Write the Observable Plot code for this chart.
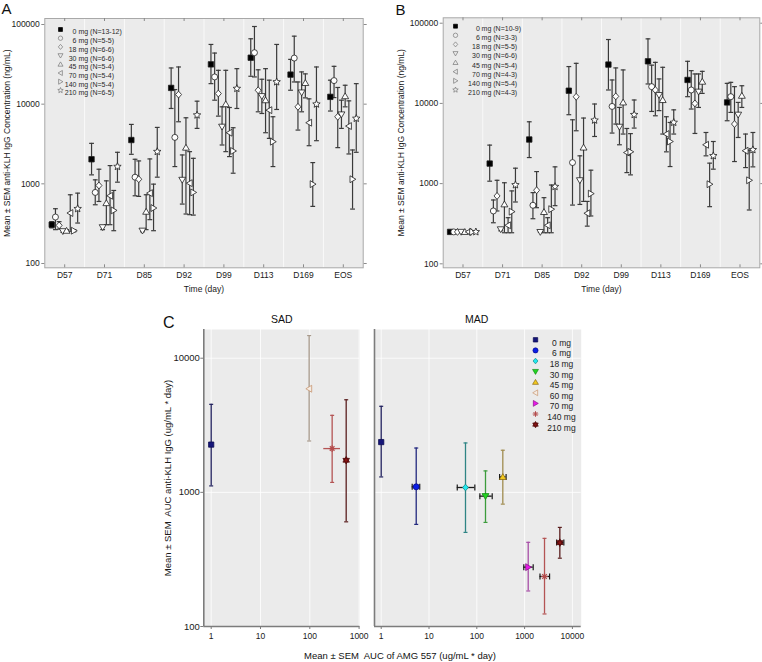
<!DOCTYPE html>
<html><head><meta charset="utf-8">
<script src="https://cdn.jsdelivr.net/npm/d3@7"></script>
<script src="https://cdn.jsdelivr.net/npm/@observablehq/plot@0.6"></script>
<style>
body{margin:0;background:#fff;}
#root{position:relative;width:762px;height:662px;overflow:hidden;background:#fff;font-family:"Liberation Sans",Arial,Helvetica,sans-serif;}
.pane{position:absolute;}
#overlay{position:absolute;left:0;top:0;pointer-events:none;}
</style></head><body><div id="root"></div>
<script>
// ---------- DATA ----------
const timepoints = ["D57","D71","D85","D92","D99","D113","D169","EOS"];
const doseNums = ["0","6","18","30","45","70","140","210"];
const nLabelsA = ["mg (N=13-12)","mg (N=5-5)","mg (N=6-6)","mg (N=6-6)","mg (N=5-4)","mg (N=5-4)","mg (N=5-4)","mg (N=6-5)"];
const nLabelsB = ["mg (N=10-9)","mg (N=3-3)","mg (N=5-5)","mg (N=6-6)","mg (N=5-4)","mg (N=4-3)","mg (N=5-4)","mg (N=4-3)"];

// Panel A: rows = dose series, columns = timepoints
const meanA = [
  [307, 2034, 3548, 16000, 31600, 38300, 23500, 12350],
  [383, 780, 1212, 3831, 21970, 44300, 37900, 19770],
  [301, 953, 1142, 13200, 13600, 14960, 9260, 6950],
  [254, 285, 258, 1122, 5210, 12600, 14000, 7430],
  [258, 573, 447, 2847, 10000, 11220, 18480, 12600],
  [430, 708, 764, 1019, 4380, 8410, 5850, 5310],
  [258, 464, 497, 780, 2585, 3380, 991, 1142],
  [487, 1647, 2535, 7290, 15700, 19000, 10000, 6620]
];
const lowA = [
  [280, 1296, 2348, 8830, 18100, 22400, 14960, 8200],
  [266, 546, 708, 1647, 11220, 21970, 19000, 12100],
  [270, 601, 695, 6013, 7080, 8020, 4730, 2847],
  [246, 266, 250, 557, 3073, 7640, 8020, 4966],
  [250, 307, 266, 418, 2535, 4380, 12000, 9260],
  [254, 307, 355, 410, 2197, 3720, 3010, 2371],
  [250, 258, 258, 405, 1359, 1647, 521, 482],
  [322, 1049, 1212, 4966, 8830, 8580, 3480, 2488]
];
const highA = [
  [335, 3222, 5570, 28470, 56200, 66200, 36500, 20000],
  [487, 1122, 2034, 15250, 43800, 94400, 71400, 29850],
  [335, 1525, 1939, 29300, 26600, 27000, 19000, 16200],
  [262, 300, 268, 2304, 9260, 20540, 25400, 11220],
  [266, 1090, 729, 6745, 26600, 27900, 24000, 17280],
  [729, 1694, 2054, 2535, 9080, 20000, 11660, 11000],
  [266, 826, 991, 2090, 5060, 6950, 1848, 2660],
  [764, 2488, 5109, 10900, 27900, 56200, 29300, 18100]
];

// Panel B
const meanB = [
  [250, 1778, 3548, 14400, 30500, 33500, 19610, 10290],
  [250, 456, 537, 1830, 9170, 16180, 14700, 12130],
  [250, 702, 827, 12100, 12240, 14700, 10000, 5530],
  [250, 269, 249, 1100, 5110, 12700, 14000, 7230],
  [250, 552, 443, 2820, 10290, 11030, 18670, 12470],
  [250, 302, 302, 427, 2440, 4150, 3050, 2570],
  [250, 447, 480, 750, 2490, 3350, 983, 1100],
  [250, 964, 917, 6170, 7230, 5785, 2220, 2640]
];
const lowB = [
  [250, 1072, 2113, 7230, 14700, 17480, 12130, 6080],
  [250, 325, 365, 540, 4270, 7940, 8510, 7720],
  [250, 456, 501, 4560, 5530, 7010, 4220, 1884],
  [250, 258, 249, 550, 3050, 8130, 8910, 3760],
  [250, 244, 244, 600, 4150, 4150, 13340, 8910],
  [250, 244, 244, 295, 1372, 2490, 2220, 1585],
  [250, 244, 244, 395, 1285, 1632, 516, 469],
  [250, 590, 531, 3870, 4925, 4150, 1514, 1618]
];
const highB = [
  [250, 3020, 5900, 28800, 62600, 63800, 33500, 17780],
  [250, 625, 772, 6250, 19600, 30000, 25600, 18300],
  [250, 1100, 1413, 31600, 27700, 32500, 23300, 16180],
  [250, 282, 249, 2220, 8910, 20200, 23300, 10290],
  [250, 1025, 668, 6570, 26150, 28200, 25100, 16600],
  [250, 376, 376, 600, 4870, 6820, 4340, 4150],
  [250, 811, 960, 1470, 4200, 5785, 1800, 2610],
  [250, 1557, 1618, 9830, 11030, 8310, 3350, 4340]
];

// Panel C
const cDoses = ["0 mg","6 mg","18 mg","30 mg","45 mg","60 mg","70 mg","140 mg","210 mg"];
const sadDose = ["0 mg","60 mg","140 mg","210 mg"];
const sadX   = [1, 97, 284, 547];
const sadXLo = [1, 97, 192, 505];
const sadXHi = [1, 97, 420, 595];
const sadY   = [2270, 5920, 2120, 1735];
const sadYLo = [1117, 2415, 1186, 603];
const sadYHi = [4530, 14750, 3750, 4900];

const madDose = ["0 mg","6 mg","18 mg","30 mg","45 mg","70 mg","140 mg","210 mg"];
const madX   = [1, 5.4, 58, 152, 350, 1190, 2610, 5460];
const madXLo = [1, 4.45, 39, 116, 300, 962, 2100, 4680];
const madXHi = [1, 6.4, 91, 210, 410, 1513, 3330, 6620];
const madY   = [2370, 1100, 1087, 937, 1303, 277, 236, 422];
const madYLo = [1303, 577, 503, 597, 817, 184, 124, 323];
const madYHi = [4380, 2140, 2335, 1445, 2060, 424, 454, 548];

// ---------- SYMBOLS / STYLES ----------
const FONT = '"Liberation Sans", Arial, Helvetica, sans-serif';
const S = (f) => ({draw(c, size) { const r = Math.sqrt(size / Math.PI); f(c, r); }});
const SYM = {
  square: S((c,r)=>{c.moveTo(-r*.9,-r*.9);c.lineTo(r*.9,-r*.9);c.lineTo(r*.9,r*.9);c.lineTo(-r*.9,r*.9);c.closePath();}),
  circle: S((c,r)=>{c.moveTo(r,0);c.arc(0,0,r,0,2*Math.PI);c.closePath();}),
  diamond: S((c,r)=>{c.moveTo(0,-r*1.15);c.lineTo(r,0);c.lineTo(0,r*1.15);c.lineTo(-r,0);c.closePath();}),
  triDown: S((c,r)=>{c.moveTo(0,r*1.1);c.lineTo(-r*1.15,-r*.85);c.lineTo(r*1.15,-r*.85);c.closePath();}),
  triUp: S((c,r)=>{c.moveTo(0,-r*1.1);c.lineTo(r*1.15,r*.85);c.lineTo(-r*1.15,r*.85);c.closePath();}),
  triLeft: S((c,r)=>{c.moveTo(-r*1.1,0);c.lineTo(r*.85,-r*1.15);c.lineTo(r*.85,r*1.15);c.closePath();}),
  triRight: S((c,r)=>{c.moveTo(r*1.1,0);c.lineTo(-r*.85,r*1.15);c.lineTo(-r*.85,-r*1.15);c.closePath();}),
  star: S((c,r)=>{const R=r*1.3,ri=R*0.45;for(let i=0;i<10;i++){const a=-Math.PI/2+i*Math.PI/5,rr=i%2?ri:R;const x=rr*Math.cos(a),y=rr*Math.sin(a);i?c.lineTo(x,y):c.moveTo(x,y);}c.closePath();}),
  hexagram: S((c,r)=>{const R=r*1.3,k=0.866;c.moveTo(0,-R);c.lineTo(R*k,R/2);c.lineTo(-R*k,R/2);c.closePath();c.moveTo(0,R);c.lineTo(-R*k,-R/2);c.lineTo(R*k,-R/2);c.closePath();}),
  asterisk: S((c,r)=>{for(let i=0;i<4;i++){const a=i*Math.PI/4;c.moveTo(-r*Math.cos(a),-r*Math.sin(a));c.lineTo(r*Math.cos(a),r*Math.sin(a));}}),
  capH: S((c,r)=>{c.moveTo(-r,0);c.lineTo(r,0);}),
  capV: S((c,r)=>{c.moveTo(0,-r);c.lineTo(0,r);})
};
const seriesSym = [SYM.square, SYM.circle, SYM.diamond, SYM.triDown, SYM.triUp, SYM.triLeft, SYM.triRight, SYM.star];
const OFFSET = 0.093;

const root = document.getElementById("root");
function place(node, left, top) {
  const d = document.createElement("div");
  d.className = "pane"; d.style.left = left + "px"; d.style.top = top + "px";
  d.appendChild(node); root.appendChild(d);
}

// ---------- PANELS A / B ----------
function timePanel(o) {
  const H = 300, innerH = H - o.mT - o.mB;
  const rows = (s) => timepoints.map((t, c) => ({x: c + (s - 3.5) * OFFSET, y: o.means[s][c], lo: o.lows[s][c], hi: o.highs[s][c]}));
  const series = d3.range(8);
  const barC = "#3a3a3a";
  return Plot.plot({
    width: o.width, height: H,
    marginLeft: o.mL, marginRight: o.mR, marginTop: o.mT, marginBottom: o.mB,
    style: {fontFamily: FONT, fontSize: "8.5px", color: "#1a1a1a", background: "transparent", overflow: "visible"},
    x: {domain: [-0.5, 7.5]},
    y: {type: "log", domain: o.yDomain},
    marks: [
      Plot.frame({fill: "#ebebeb", stroke: null}),
      Plot.ruleX(d3.range(0.5, 7, 1), {stroke: "#fff", strokeOpacity: 0.7}),
      ...series.flatMap(s => [
        Plot.ruleX(rows(s), {x: "x", y1: "lo", y2: "hi", stroke: barC, strokeWidth: 1.2}),
        Plot.dot(rows(s), {x: "x", y: "lo", symbol: SYM.capH, r: 2.4, fill: "none", stroke: barC, strokeWidth: 1.2}),
        Plot.dot(rows(s), {x: "x", y: "hi", symbol: SYM.capH, r: 2.4, fill: "none", stroke: barC, strokeWidth: 1.2})
      ]),
      ...series.map(s => Plot.dot(rows(s), {x: "x", y: "y", symbol: seriesSym[s], r: 3, fill: s ? "#fff" : "#000", stroke: "#1e1e1e", strokeWidth: 0.8})),
      Plot.frame({stroke: "#a8a8a8"}),
      Plot.ruleX(d3.range(8), {insetTop: innerH - 3, stroke: "#8a8a8a"}),
      Plot.ruleX(d3.range(8), {insetBottom: innerH - 3, stroke: "#8a8a8a"}),
      Plot.axisX(d3.range(8), {tickSize: 0, tickPadding: 4, tickFormat: i => timepoints[i], fontSize: 8.5,
        label: "Time (day)", labelAnchor: "center", labelArrow: "none", labelOffset: 24}),
      Plot.axisY([100, 1000, 10000, 100000], {tickSize: 3, tickPadding: 2, tickFormat: d3.format("d"), stroke: "#8a8a8a", fontSize: 8.5,
        label: "Mean \u00b1 SEM anti-KLH IgG Concentration (ng/mL)", labelAnchor: "center", labelArrow: "none", labelOffset: o.yLabelOffset}),
      Plot.axisY([100, 1000, 10000, 100000], {anchor: "right", tickSize: 3, tickFormat: () => "", stroke: "#8a8a8a", label: null}),
      // legend
      ...series.flatMap(s => [
        Plot.dot([0], {frameAnchor: "top-left", dx: o.lg.sym, dy: o.lg.dy0 + s * o.lg.step, symbol: seriesSym[s], r: 2.2,
          fill: s ? "none" : "#000", stroke: s ? "#777" : "#000", strokeWidth: 0.7}),
        Plot.text([doseNums[s]], {frameAnchor: "top-left", dx: o.lg.num, dy: o.lg.dy0 + s * o.lg.step, textAnchor: "end", fontSize: 7, fill: "#2a2a2a"}),
        Plot.text([o.nLabels[s]], {frameAnchor: "top-left", dx: o.lg.txt, dy: o.lg.dy0 + s * o.lg.step, textAnchor: "start", fontSize: 7, fill: "#2a2a2a"})
      ])
    ]
  });
}

place(timePanel({means: meanA, lows: lowA, highs: highA, nLabels: nLabelsA, width: 380,
  mL: 44.3, mR: 17.3, mT: 18, mB: 32.7, yDomain: [88.3, 118950], yLabelOffset: 41,
  lg: {sym: 15.7, num: 31.7, txt: 33.6, dy0: 11, step: 8.7}}), 0, 0);
place(timePanel({means: meanB, lows: lowB, highs: highB, nLabels: nLabelsB, width: 382,
  mL: 62.7, mR: 2.7, mT: 17.3, mB: 32.7, yDomain: [89.2, 116800], yLabelOffset: 45,
  lg: {sym: 12.3, num: 36.6, txt: 38.4, dy0: 8.4, step: 9.1}}), 380, 0);

// ---------- PANEL C ----------
const cStyle = {
  "0 mg":   {sym: SYM.square,  fill: "#16167a", stroke: "#0c0c50", bar: "#22225e", r: 2.9},
  "6 mg":   {sym: SYM.circle,  fill: "#0a1ee6", stroke: "#0a0a8c", bar: "#22287e", r: 3},
  "18 mg":  {sym: SYM.diamond, fill: "#22e8ee", stroke: "#148c8c", bar: "#2e8484", r: 2.9},
  "30 mg":  {sym: SYM.triDown, fill: "#22d422", stroke: "#148c14", bar: "#3c9c3c", r: 3},
  "45 mg":  {sym: SYM.triUp,   fill: "#f2c81e", stroke: "#8c6c14", bar: "#a08c50", r: 3},
  "60 mg":  {sym: SYM.triLeft, fill: "#f4ece4", stroke: "#c89670", bar: "#a89a8c", r: 3},
  "70 mg":  {sym: SYM.triRight,fill: "#e818e8", stroke: "#8c148c", bar: "#a850a8", r: 3},
  "140 mg": {sym: SYM.asterisk,fill: "none",    stroke: "#b44c4c", bar: "#b45454", r: 3.3},
  "210 mg": {sym: SYM.hexagram,fill: "#8a1414", stroke: "#500a0a", bar: "#5a1e1e", r: 2.9}
};

function aucPanel(o) {
  const rows = o.dose.map((d, i) => ({d, x: o.x[i], xlo: o.xlo[i], xhi: o.xhi[i], y: o.y[i], ylo: o.ylo[i], yhi: o.yhi[i]}));
  const marks = [
    Plot.frame({fill: "#ebebeb", stroke: null}),
    Plot.gridX(o.xticks, {stroke: "#fff", strokeOpacity: 1, strokeWidth: 0.8}),
    Plot.gridY([1000, 10000], {stroke: "#fff", strokeOpacity: 1, strokeWidth: 0.8}),
    Plot.ruleX([o.xDomain[0]], {stroke: "#7c7c7c", strokeWidth: 1.6}),
    Plot.ruleY([o.yDomain[0]], {stroke: "#7c7c7c", strokeWidth: 1.6}),
    Plot.axisX(o.xticks, {tickSize: 3, tickPadding: 3, tickFormat: d3.format("d"), stroke: "#7c7c7c", fontSize: 8.5, label: null})
  ];
  if (o.yAxis) marks.push(Plot.axisY([100, 1000, 10000], {tickSize: 3, tickPadding: 1, tickFormat: d3.format("d"), stroke: "#7c7c7c", fontSize: 8.5,
    label: "Mean \u00b1 SEM  AUC anti-KLH IgG (ug/mL * day)", labelAnchor: "center", labelArrow: "none", labelOffset: 40, fontSize: 9.5}));
  for (const r of rows) {
    const st = cStyle[r.d];
    const one = [r];
    marks.push(
      Plot.ruleX(one, {x: "x", y1: "ylo", y2: "yhi", stroke: st.bar, strokeWidth: 1.3}),
      Plot.dot(one, {x: "x", y: "ylo", symbol: SYM.capH, r: 2, fill: "none", stroke: st.bar, strokeWidth: 1.2}),
      Plot.dot(one, {x: "x", y: "yhi", symbol: SYM.capH, r: 2, fill: "none", stroke: st.bar, strokeWidth: 1.2})
    );
    if (r.xhi > r.xlo) {
      const hc = o.hColor || st.bar;
      marks.push(
        Plot.ruleY(one, {y: "y", x1: "xlo", x2: "xhi", stroke: hc, strokeWidth: 1.3}),
        Plot.dot(one, {x: "xlo", y: "y", symbol: SYM.capV, r: 3, fill: "none", stroke: hc, strokeWidth: 1.2, filter: () => !!o.hColor}),
        Plot.dot(one, {x: "xhi", y: "y", symbol: SYM.capV, r: 3, fill: "none", stroke: hc, strokeWidth: 1.2, filter: () => !!o.hColor})
      );
    }
  }
  for (const r of rows) {
    const st = cStyle[r.d];
    marks.push(Plot.dot([r], {x: "x", y: "y", symbol: st.sym, r: st.r, fill: st.fill, stroke: st.stroke, strokeWidth: st.fill === "none" ? 1.2 : 0.8}));
  }
  if (o.legend) {
    cDoses.forEach((d, i) => {
      const st = cStyle[d];
      marks.push(
        Plot.dot([0], {frameAnchor: "top-left", dx: 161, dy: 10.3 + i * 10.6, symbol: st.sym, r: st.r * 0.85, fill: st.fill, stroke: st.stroke, strokeWidth: st.fill === "none" ? 1 : 0.7}),
        Plot.text([d], {frameAnchor: "top-left", dx: 187, dy: 10.3 + i * 10.6, textAnchor: "middle", fontSize: 8.5, fill: "#222"})
      );
    });
  }
  return Plot.plot({
    width: o.width, height: 340,
    marginLeft: o.mL, marginRight: o.mR, marginTop: 19, marginBottom: 24,
    style: {fontFamily: FONT, fontSize: "8.5px", color: "#1a1a1a", background: "transparent", overflow: "visible"},
    x: {type: "log", domain: o.xDomain},
    y: {type: "log", domain: o.yDomain, axis: null},
    marks
  });
}

place(aucPanel({dose: sadDose, x: sadX, xlo: sadXLo, xhi: sadXHi, y: sadY, ylo: sadYLo, yhi: sadYHi,
  width: 242, mL: 83.3, mR: 2.7, xDomain: [0.708, 1033], yDomain: [100, 16370], xticks: [1, 10, 100, 1000], yAxis: true}), 120, 310);
place(aucPanel({dose: madDose, x: madX, xlo: madXLo, xhi: madXHi, y: madY, ylo: madYLo, yhi: madYHi,
  width: 224, mL: 12, mR: 5.3, xDomain: [0.724, 15280], yDomain: [100, 16370], xticks: [1, 10, 100, 1000, 10000], hColor: "#1a1a1a", legend: true}), 362, 310);

// ---------- TEXT OVERLAY ----------
const ov = d3.select(root).append("svg").attr("id", "overlay").attr("width", 762).attr("height", 662)
  .style("font-family", FONT);
const txt = (x, y, s, size, anchor) => ov.append("text").attr("x", x).attr("y", y).attr("font-size", size)
  .attr("text-anchor", anchor || "start").attr("fill", "#111").attr("xml:space", "preserve").text(s);
txt(1.5, 13.5, "A", 15);
txt(395.5, 15, "B", 15);
txt(163, 327.5, "C", 16);
txt(281.7, 322.7, "SAD", 10.5, "middle");
txt(476.7, 322.7, "MAD", 10.5, "middle");
txt(400, 658.5, "Mean \u00b1 SEM  AUC of AMG 557 (ug/mL * day)", 9.5, "middle");
</script></body></html>
